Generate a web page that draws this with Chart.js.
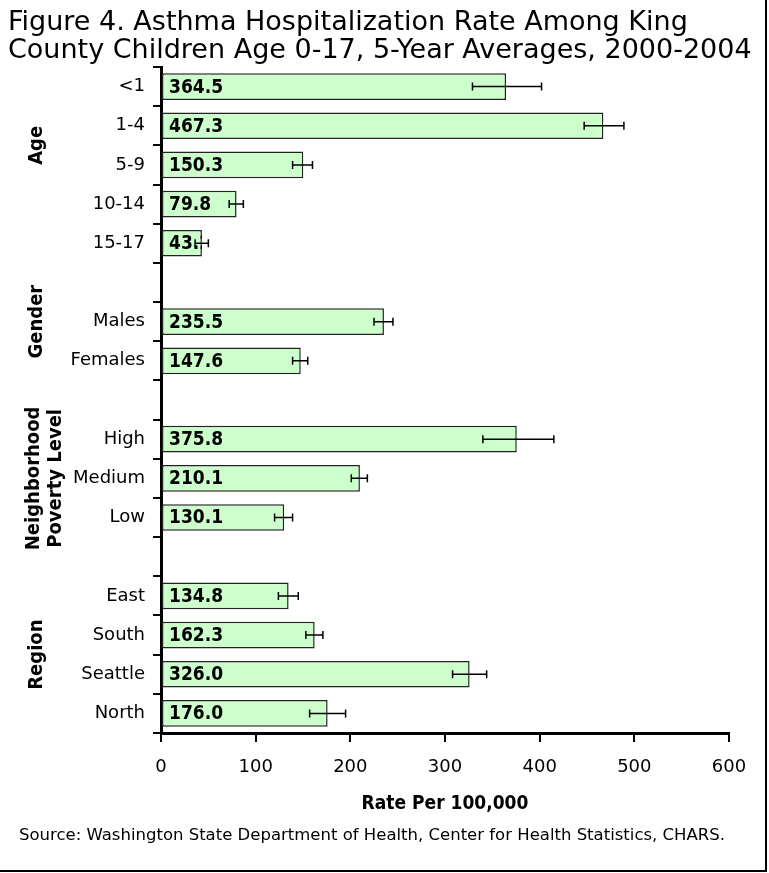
<!DOCTYPE html>
<html>
<head>
<meta charset="utf-8">
<script src="https://cdn.jsdelivr.net/npm/chart.js@4/dist/chart.umd.min.js"></script>
<style>
  body { margin: 0; background: #fff; }
  canvas { display: block; }
</style>
</head>
<body>
<canvas id="chart" width="769" height="873"></canvas>
<script>
// categories, blank entries are the gaps between groups
var categories = ['<1', '1-4', '5-9', '10-14', '15-17', '',
                  'Males', 'Females', '',
                  'High', 'Medium', 'Low', '',
                  'East', 'South', 'Seattle', 'North'];
var rates   = [364.5, 467.3, 150.3, 79.8, 43.2, null, 235.5, 147.6, null, 375.8, 210.1, 130.1, null, 134.8, 162.3, 326.0, 176.0];
var lowerCI = [329, 447, 139, 72, 36, null, 225, 139, null, 340, 201, 120, null, 124, 153, 308, 157];
var upperCI = [402, 489, 160, 87, 50, null, 245, 155, null, 415, 218, 139, null, 145, 171, 344, 195];
var xTickLabels = ['0', '100', '200', '300', '400', '500', '600'];

var groupNames = [['Age'], ['Gender'], ['Neighborhood', 'Poverty Level'], ['Region']];
var groupAnchor = [1.5, 6, 10, 14.5]; // category index the group name sits on

var titleLines = ['Figure 4. Asthma Hospitalization Rate Among King',
                  'County Children Age 0-17, 5-Year Averages, 2000-2004'];
var sourceNote = 'Source: Washington State Department of Health, Center for Health Statistics, CHARS.';

var REG = 'DejaVu Sans';
var BOLD = '"DejaVu Sans Condensed", "DejaVu Sans"';

var extras = {
    id: 'extras',
    afterDatasetsDraw: function(chart) {
        var ctx = chart.ctx;
        var xs = chart.scales.x, ys = chart.scales.y;
        var meta = chart.getDatasetMeta(0);

        // value labels inside the bars
        ctx.save();
        ctx.font = 'bold 19px ' + BOLD;
        ctx.fillStyle = '#000';
        ctx.textAlign = 'left';
        ctx.textBaseline = 'middle';
        meta.data.forEach(function(bar, i) {
            if (rates[i] === null) return;
            ctx.save();
            ctx.beginPath();
            ctx.rect(bar.base, bar.y - bar.height / 2, bar.x - bar.base, bar.height);
            ctx.clip();
            ctx.fillText(rates[i].toFixed(1), bar.base + 7, bar.y + 1);
            ctx.restore();
        });
        ctx.restore();

        // error bars
        ctx.save();
        ctx.strokeStyle = '#000';
        ctx.lineWidth = 1.5;
        meta.data.forEach(function(bar, i) {
            if (rates[i] === null) return;
            var x1 = xs.getPixelForValue(lowerCI[i]);
            var x2 = xs.getPixelForValue(upperCI[i]);
            var y = bar.y;
            ctx.beginPath();
            ctx.moveTo(x1, y); ctx.lineTo(x2, y);
            ctx.moveTo(x1, y - 4); ctx.lineTo(x1, y + 4);
            ctx.moveTo(x2, y - 4); ctx.lineTo(x2, y + 4);
            ctx.stroke();
        });
        ctx.restore();

        // group names, rotated
        ctx.save();
        ctx.font = 'bold 20px ' + BOLD;
        ctx.fillStyle = '#000';
        ctx.textAlign = 'center';
        ctx.textBaseline = 'middle';
        groupNames.forEach(function(lines, g) {
            var y = ys.getPixelForValue(groupAnchor[g]);
            lines.forEach(function(txt, k) {
                var x = lines.length === 1 ? 37 : 34 + k * 22;
                ctx.save();
                ctx.translate(x, y);
                ctx.rotate(-Math.PI / 2);
                ctx.fillText(txt, 0, 0);
                ctx.restore();
            });
        });
        ctx.restore();

        // title, source, frame
        ctx.save();
        ctx.fillStyle = '#000';
        ctx.textAlign = 'left';
        ctx.textBaseline = 'alphabetic';
        ctx.font = '27px ' + REG;
        ctx.fillText(titleLines[0], 8, 30);
        ctx.fillText(titleLines[1], 8, 58);
        ctx.font = '16.5px ' + REG;
        ctx.textBaseline = 'middle';
        ctx.fillText(sourceNote, 19, 836);
        ctx.strokeStyle = '#000';
        ctx.lineWidth = 2;
        ctx.beginPath();
        ctx.moveTo(766, 0); ctx.lineTo(766, 871); ctx.lineTo(0, 871);
        ctx.stroke();
        ctx.restore();
    }
};

new Chart(document.getElementById('chart'), {
    type: 'bar',
    data: {
        labels: categories,
        datasets: [{
            data: rates,
            backgroundColor: '#ccffcc',
            borderColor: '#222222',
            borderWidth: 1.5,
            borderSkipped: false,
            barPercentage: 0.68,
            categoryPercentage: 1.0
        }]
    },
    options: {
        indexAxis: 'y',
        responsive: false,
        animation: false,
        devicePixelRatio: 1,
        layout: { padding: { top: 67, right: 40, bottom: 50, left: 0 } },
        plugins: { legend: { display: false }, tooltip: { enabled: false }, title: { display: false } },
        scales: {
            x: {
                min: 0, max: 600,
                ticks: {
                    stepSize: 100,
                    color: '#000',
                    font: { family: REG, size: 18 },
                    padding: 15,
                    callback: function(v, i) { return xTickLabels[i]; }
                },
                grid: { drawOnChartArea: false, drawTicks: true, tickLength: 9, color: '#000', lineWidth: 2 },
                border: { color: '#000', width: 3 },
                title: {
                    display: true, text: 'Rate Per 100,000', color: '#000',
                    font: { family: BOLD, size: 19, weight: 'bold' },
                    padding: { top: 0, bottom: 8 }
                },
                afterFit: function(axis) { axis.height = 90; }
            },
            y: {
                offset: true,
                ticks: {
                    color: '#000',
                    font: { family: REG, size: 18 },
                    padding: 8,
                    autoSkip: false
                },
                grid: { offset: true, drawOnChartArea: false, drawTicks: true, tickLength: 8, color: '#000', lineWidth: 2 },
                border: { color: '#000', width: 3 },
                afterFit: function(axis) { axis.width = 161; }
            }
        }
    },
    plugins: [extras]
});
</script>
</body>
</html>
